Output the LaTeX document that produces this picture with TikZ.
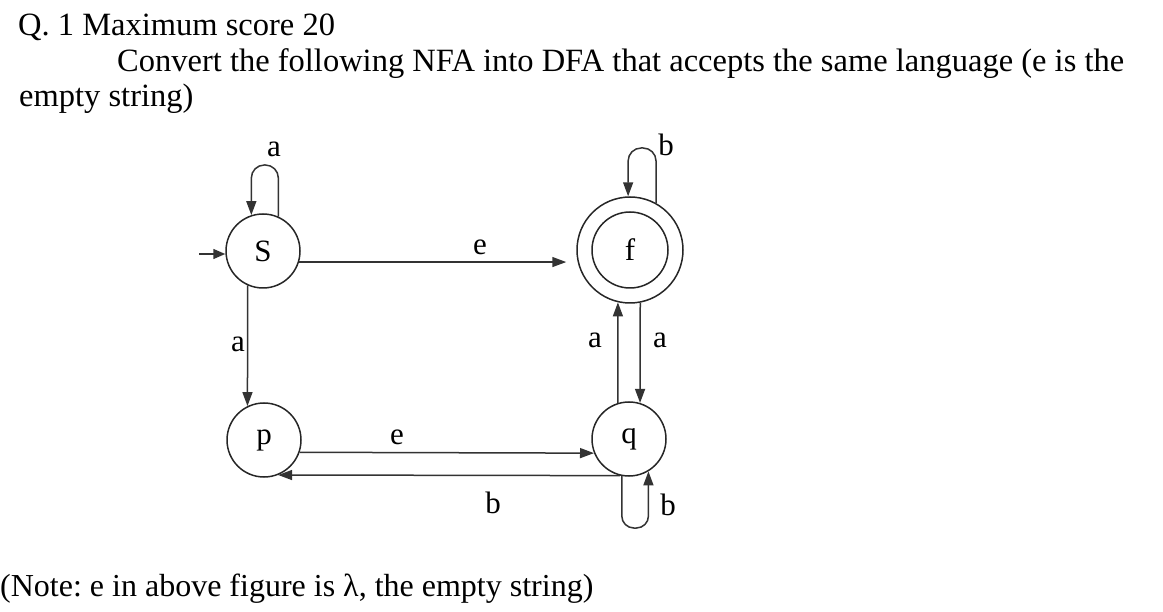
\documentclass[tikz,border=0pt]{standalone}
\usepackage{fontspec}
\setmainfont{Liberation Serif}
\usetikzlibrary{arrows.meta}
\frenchspacing
\begin{document}
\begin{tikzpicture}[x=1pt,y=-1pt,
  txt/.style={anchor=base west,inner sep=0pt,font=\fontsize{32.5}{39}\selectfont},
  state/.style={draw=black!85,line width=1.5pt,circle,minimum size=74pt,inner sep=0pt,font=\fontsize{31}{36}\selectfont},
  lbl/.style={inner sep=0pt,font=\fontsize{31}{36}\selectfont},
  arr/.style={draw=black!80,line width=1.5pt,-{Triangle[length=14pt,width=10pt]}},
  plain/.style={draw=black!80,line width=1.5pt}]
\useasboundingbox (0,0) rectangle (1163,612);
% text
\node[txt] (t1) at (18,36) {Q. 1 Maximum score 20};
\node[txt] (t2) at (117,72) {Convert the following NFA into DFA that accepts the same language (e is the};
\node[txt] (t3) at (19,107) {empty string)};
\node[txt,font=\fontsize{32}{38}\selectfont] (t4) at (0,596) {(Note: e in above figure is λ, the empty string)};
% states
\node[state] (S) at (263,251) {S};
\node[state,minimum size=106pt] (f) at (630,250) {};
\node[state,minimum size=76pt] (fi) at (630,250) {f};
\node[state] (p) at (264,440) {p};
\node[state] (q) at (629,439) {q};
% initial
\coordinate (i0) at (199,254);
\draw[arr,-{Triangle[length=12pt,width=10pt]}] (i0) -- (i0 -| S.west);
% S loop
\draw[arr,rounded corners=13pt] (S.66) -- (S.66 |- 0,165) -- (S.108 |- 0,165) -- (S.108);
\node[lbl] (la1) at (274,149) {a};
% f loop
\draw[arr,rounded corners=13pt] (f.61) -- (f.61 |- 0,148) -- (f.92 |- 0,148) -- (f.92);
\node[lbl] (lb1) at (666,145) {b};
% S -> f
\draw[arr,shorten >=10pt] (S.-17) -- (f.west |- S.-17);
\node[lbl] (le1) at (480,247) {e};
% S -> p
\draw[arr] (S.246) -- (p.116);
\node[lbl] (la2) at (238,344) {a};
% q -> f, f -> q
\draw[arr] (q.107) -- (f.-103);
\draw[arr] (f.-79) -- (q.73);
\node[lbl] (la3) at (595,340) {a};
\node[lbl] (la4) at (660,340) {a};
% p -> q
\draw[arr] (p.-19) -- (q.202);
\node[lbl] (le2) at (397,437) {e};
% q -> p
\draw[arr] (q.-104) -- (p.-68);
\node[lbl] (lb2) at (493,503) {b};
% q loop
\draw[arr,rounded corners=12pt] (q.-101) -- (q.-101 |- 0,528) -- (q.-59 |- 0,528) -- (q.-59);
\node[lbl] (lb3) at (668,505) {b};
\end{tikzpicture}
\end{document}
